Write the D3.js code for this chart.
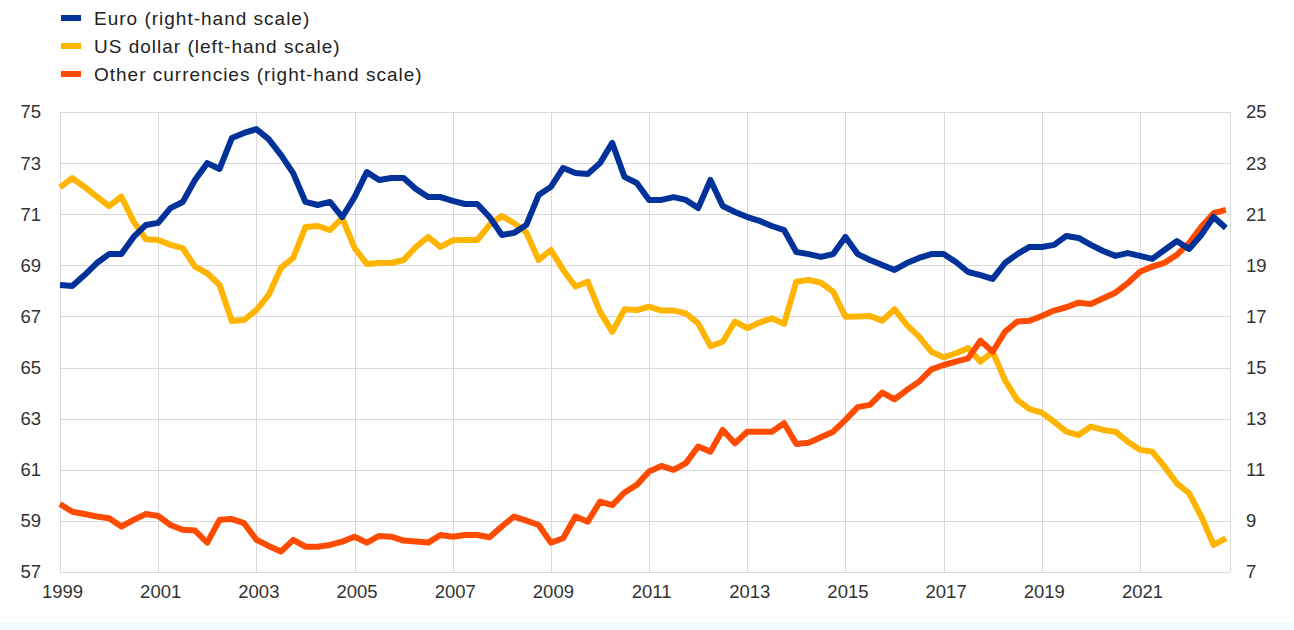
<!DOCTYPE html>
<html>
<head>
<meta charset="utf-8">
<script src="https://cdn.jsdelivr.net/npm/d3@7"></script>
<style>
  html, body { margin: 0; padding: 0; background: #fff; }
  svg { display: block; font-family: "Liberation Sans", Arial, sans-serif; }
</style>
</head>
<body>
<div id="chart"></div>
<script>
// quarterly shares, 1999Q1 - 2022Q4
const startYear = 1999;
const euro = [
  18.23, 18.19, 18.62, 19.09, 19.44, 19.44, 20.11, 20.58, 20.66, 21.24, 21.48, 22.34,
  23.00, 22.77, 23.98, 24.18, 24.33, 23.94, 23.32, 22.61, 21.48, 21.36, 21.48, 20.89,
  21.67, 22.65, 22.34, 22.42, 22.42, 21.99, 21.67, 21.67, 21.52, 21.40, 21.40, 20.89,
  20.19, 20.27, 20.58, 21.75, 22.07, 22.81, 22.61, 22.57, 23.00, 23.79, 22.46, 22.22,
  21.56, 21.56, 21.67, 21.56, 21.24, 22.34, 21.32, 21.09, 20.89, 20.74, 20.54, 20.38,
  19.52, 19.44, 19.33, 19.44, 20.11, 19.44, 19.21, 19.01, 18.82, 19.09, 19.29, 19.44,
  19.44, 19.13, 18.74, 18.62, 18.47, 19.09, 19.44, 19.72, 19.72, 19.80, 20.15, 20.07,
  19.80, 19.56, 19.37, 19.48, 19.37, 19.25, 19.60, 19.95, 19.64, 20.19, 20.89, 20.46
];
const usDollar = [
  72.05, 72.41, 72.07, 71.69, 71.32, 71.69, 70.71, 70.02, 69.99, 69.80, 69.67, 68.95,
  68.69, 68.23, 66.82, 66.86, 67.25, 67.84, 68.90, 69.29, 70.50, 70.54, 70.38, 70.85,
  69.68, 69.05, 69.09, 69.09, 69.21, 69.72, 70.11, 69.72, 69.98, 69.99, 69.99, 70.58,
  70.93, 70.65, 70.28, 69.21, 69.60, 68.82, 68.17, 68.36, 67.19, 66.40, 67.28, 67.25,
  67.38, 67.23, 67.23, 67.12, 66.73, 65.84, 66.01, 66.80, 66.54, 66.76, 66.93, 66.71,
  68.36, 68.43, 68.32, 67.97, 66.99, 67.00, 67.02, 66.83, 67.28, 66.67, 66.21, 65.62,
  65.40, 65.56, 65.76, 65.23, 65.62, 64.51, 63.73, 63.37, 63.24, 62.88, 62.49, 62.36,
  62.69, 62.56, 62.49, 62.10, 61.78, 61.71, 61.12, 60.47, 60.08, 59.17, 58.06, 58.32
];
const otherCurrencies = [
  9.66, 9.36, 9.27, 9.17, 9.10, 8.78, 9.04, 9.27, 9.19, 8.84, 8.65, 8.62,
  8.15, 9.04, 9.07, 8.91, 8.26, 8.02, 7.80, 8.26, 7.99, 7.99, 8.06, 8.19,
  8.38, 8.15, 8.41, 8.38, 8.23, 8.19, 8.15, 8.45, 8.38, 8.45, 8.45, 8.36,
  8.78, 9.17, 9.01, 8.84, 8.15, 8.32, 9.17, 8.97, 9.75, 9.62, 10.11, 10.41,
  10.93, 11.15, 11.00, 11.26, 11.91, 11.71, 12.56, 12.04, 12.49, 12.49, 12.49, 12.82,
  12.01, 12.06, 12.27, 12.49, 12.95, 13.45, 13.54, 14.02, 13.76, 14.12, 14.45, 14.93,
  15.10, 15.23, 15.36, 16.05, 15.62, 16.40, 16.80, 16.83, 17.02, 17.23, 17.36, 17.54,
  17.49, 17.71, 17.93, 18.30, 18.75, 18.95, 19.10, 19.41, 19.87, 20.51, 21.04, 21.17
];
const leftTicks = [57, 59, 61, 63, 65, 67, 69, 71, 73, 75];
const rightTicks = [7, 9, 11, 13, 15, 17, 19, 21, 23, 25];
const yearTicks = [1999, 2001, 2003, 2005, 2007, 2009, 2011, 2013, 2015, 2017, 2019, 2021];
const legendLabels = [
  'Euro (right-hand scale)',
  'US dollar (left-hand scale)',
  'Other currencies (right-hand scale)'
];

const width = 1294;
const height = 630;
const plot = { left: 60, right: 1230, top: 112, bottom: 572 };
const colors = { euro: '#003299', usd: '#ffb400', other: '#ff4b00' };

const svg = d3.select('#chart')
  .append('svg')
  .attr('width', width)
  .attr('height', height);

// faint band at the very bottom of the original image
svg.append('rect')
  .attr('x', 0).attr('y', 622)
  .attr('width', width).attr('height', 8)
  .style('fill', '#f1fafd');

const x = d3.scaleLinear()
  .domain([1999, 2022.834])
  .range([plot.left, plot.right]);
const yLeft = d3.scaleLinear().domain([57, 75]).range([plot.bottom, plot.top]);
const yRight = d3.scaleLinear().domain([7, 25]).range([plot.bottom, plot.top]);

// grid
const grid = svg.append('g').style('stroke', '#d9d9d9').style('stroke-width', 1);
grid.selectAll('.h')
  .data(leftTicks)
  .enter().append('line')
  .attr('x1', plot.left).attr('x2', plot.right)
  .attr('y1', (d) => Math.round(yLeft(d)) + 0.5)
  .attr('y2', (d) => Math.round(yLeft(d)) + 0.5);
grid.selectAll('.v')
  .data(yearTicks.concat([2022.834]))
  .enter().append('line')
  .attr('x1', (d) => Math.round(x(d)) + 0.5)
  .attr('x2', (d) => Math.round(x(d)) + 0.5)
  .attr('y1', plot.top).attr('y2', plot.bottom);

// axes (labels only)
const axisLeft = svg.append('g')
  .attr('transform', `translate(${plot.left - 19},0)`)
  .call(d3.axisLeft(yLeft).tickValues(leftTicks).tickSize(0).tickPadding(0));
const axisRight = svg.append('g')
  .attr('transform', `translate(${plot.right + 16},0)`)
  .call(d3.axisRight(yRight).tickValues(rightTicks).tickSize(0).tickPadding(0));
const axisBottom = svg.append('g')
  .attr('transform', `translate(0,${plot.bottom + 13})`)
  .call(d3.axisBottom(x).tickValues(yearTicks).tickFormat(d3.format('d')).tickSize(0).tickPadding(0));

[axisLeft, axisRight, axisBottom].forEach((a) => {
  a.select('.domain').remove();
  a.selectAll('text')
    .style('font-family', '"Liberation Sans", Arial, sans-serif')
    .style('font-size', '18.5px')
    .style('fill', '#333');
});
axisBottom.selectAll('text').attr('dy', '0.71em').attr('dx', 2);

// lines
const t = (i) => startYear + i / 4;
const lineLeft = d3.line().x((d, i) => x(t(i))).y((d) => yLeft(d));
const lineRight = d3.line().x((d, i) => x(t(i))).y((d) => yRight(d));

const series = [
  { data: usDollar, gen: lineLeft, color: colors.usd },
  { data: otherCurrencies, gen: lineRight, color: colors.other },
  { data: euro, gen: lineRight, color: colors.euro }
];
svg.selectAll('.series')
  .data(series)
  .enter().append('path')
  .attr('d', (s) => s.gen(s.data))
  .style('fill', 'none')
  .style('stroke', (s) => s.color)
  .style('stroke-width', 6)
  .style('stroke-linejoin', 'round');

// legend
const legendColors = [colors.euro, colors.usd, colors.other];
const legend = svg.selectAll('.legend')
  .data(legendLabels)
  .enter().append('g')
  .attr('transform', (d, i) => `translate(61,${18 + i * 28})`);
legend.append('rect')
  .attr('x', 0).attr('y', -3)
  .attr('width', 20).attr('height', 6)
  .style('fill', (d, i) => legendColors[i]);
legend.append('text')
  .attr('x', 33).attr('dy', '0.35em')
  .style('font-size', '19px')
  .style('letter-spacing', '1px')
  .style('fill', '#222')
  .text((d) => d);
</script>
</body>
</html>
